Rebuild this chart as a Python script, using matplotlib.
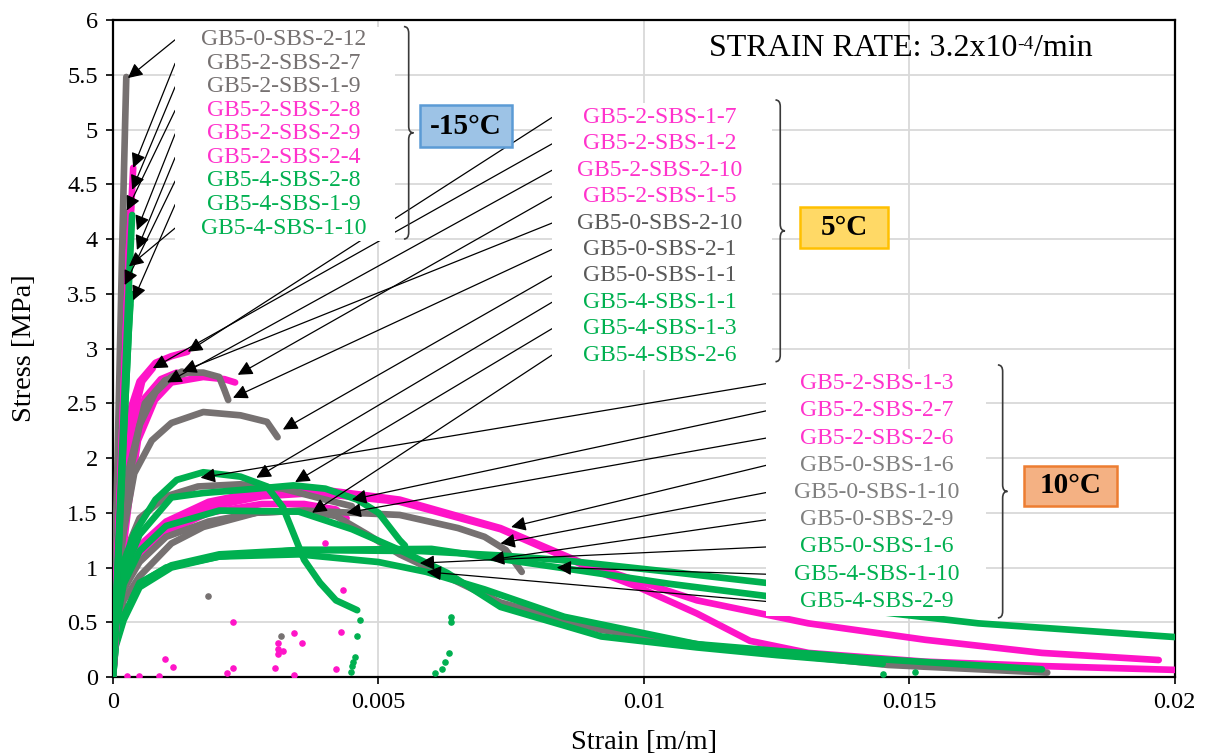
import matplotlib.pyplot as plt
from matplotlib.patches import Rectangle, PathPatch
from matplotlib.path import Path

plt.rcParams['font.family'] = ['Liberation Serif', 'DejaVu Serif']

GRAY = '#767171'
PINK = '#FF14C8'
GREEN = '#00B050'

# ---- -15 C curves (strain, stress) ----
c15_labels = ['GB5-0-SBS-2-12', 'GB5-2-SBS-2-7', 'GB5-2-SBS-1-9',
              'GB5-2-SBS-2-8', 'GB5-2-SBS-2-9', 'GB5-2-SBS-2-4',
              'GB5-4-SBS-2-8', 'GB5-4-SBS-1-9', 'GB5-4-SBS-1-10']
c15_colors = [GRAY, GRAY, GRAY, PINK, PINK, PINK, GREEN, GREEN, GREEN]
c15_x = [
    [0, 0.00004, 0.00009, 0.00014, 0.00019, 0.00023, 0.00025],
    [0, 0.00006, 0.00012, 0.00018, 0.00022],
    [0, 0.00006, 0.00012, 0.00018, 0.0002],
    [0, 0.0001, 0.0002, 0.0003, 0.00038],
    [0, 0.0001, 0.0002, 0.0003, 0.00034],
    [0, 0.0001, 0.0002, 0.00028, 0.0003],
    [0, 0.0001, 0.0002, 0.0003, 0.00036],
    [0, 0.0001, 0.0002, 0.0003, 0.00034],
    [0, 0.0001, 0.0002, 0.0003, 0.00032],
]
c15_y = [
    [0, 1.0, 2.1, 3.2, 4.3, 5.1, 5.48],
    [0, 1.2, 2.4, 3.6, 4.25],
    [0, 1.1, 2.2, 3.3, 3.6],
    [0, 1.3, 2.6, 3.9, 4.65],
    [0, 1.3, 2.6, 3.9, 4.3],
    [0, 1.3, 2.6, 3.6, 3.9],
    [0, 1.2, 2.4, 3.6, 4.22],
    [0, 1.1, 2.2, 3.2, 3.5],
    [0, 1.1, 2.2, 3.2, 3.4],
]
c15_tips = [(0.00028, 5.47), (0.00038, 4.65), (0.00036, 4.45), (0.00026, 4.26),
            (0.00045, 4.08), (0.00045, 3.9), (0.00022, 3.58), (0.00038, 3.44),
            (0.0003, 3.75)]

# ---- 5 C curves ----
c5_labels = ['GB5-2-SBS-1-7', 'GB5-2-SBS-1-2', 'GB5-2-SBS-2-10', 'GB5-2-SBS-1-5',
             'GB5-0-SBS-2-10', 'GB5-0-SBS-2-1', 'GB5-0-SBS-1-1',
             'GB5-4-SBS-1-1', 'GB5-4-SBS-1-3', 'GB5-4-SBS-2-6']
c5_colors = [PINK, PINK, PINK, PINK, GRAY, GRAY, GRAY, GREEN, GREEN, GREEN]
c5_text_colors = ['#FF33CC'] * 4 + ['#595959'] * 3 + [GREEN] * 3
c5_x = [
    [0, 0.0001, 0.0002, 0.0003, 0.0005, 0.0008, 0.0011, 0.0014],
    [0, 0.00012, 0.00025, 0.0004, 0.00055, 0.00075],
    [0, 0.0001, 0.00025, 0.0004, 0.0006, 0.0009, 0.0012],
    [0, 0.0001, 0.0003, 0.00047, 0.00079, 0.0011, 0.0017, 0.0021, 0.0023],
    [0, 0.0001, 0.0003, 0.0005, 0.0008, 0.0011, 0.0013],
    [0, 0.0001, 0.0003, 0.0006, 0.00098, 0.0014, 0.0017, 0.002, 0.0021, 0.00217],
    [0, 0.00005, 0.00015, 0.0004, 0.00073, 0.0011, 0.0017, 0.0024, 0.0029, 0.0031],
    [0, 0.00005, 0.0002, 0.0004, 0.0008, 0.0012, 0.0017, 0.0024, 0.0029, 0.0032,
     0.0034, 0.0036, 0.0039, 0.0042, 0.0046],
    [0, 0.00005, 0.0002, 0.0005, 0.0011, 0.0017, 0.0027, 0.0034, 0.004, 0.0046,
     0.005, 0.0054, 0.0055],
    [0, 0.00005, 0.0002, 0.0005, 0.001, 0.002, 0.0035, 0.0045, 0.0054, 0.0063,
     0.0073, 0.0092, 0.011, 0.0125, 0.0145],
]
c5_y = [
    [0, 1.0, 1.8, 2.4, 2.7, 2.87, 2.93, 2.97],
    [0, 1.0, 1.8, 2.4, 2.7, 2.82],
    [0, 0.9, 1.7, 2.25, 2.55, 2.72, 2.78],
    [0, 0.8, 1.6, 2.16, 2.53, 2.69, 2.74, 2.72, 2.69],
    [0, 0.9, 1.8, 2.3, 2.6, 2.74, 2.79],
    [0, 0.9, 1.9, 2.5, 2.71, 2.78, 2.78, 2.74, 2.62, 2.53],
    [0, 0.5, 1.2, 1.86, 2.16, 2.32, 2.42, 2.39, 2.33, 2.19],
    [0, 0.6, 1.05, 1.31, 1.62, 1.8, 1.87, 1.83, 1.74, 1.55,
     1.31, 1.07, 0.86, 0.7, 0.61],
    [0, 0.5, 0.95, 1.3, 1.64, 1.68, 1.72, 1.75, 1.72, 1.62,
     1.5, 1.25, 1.2],
    [0, 0.45, 0.85, 1.15, 1.38, 1.52, 1.51, 1.35, 1.16, 0.95,
     0.64, 0.37, 0.27, 0.2, 0.12],
]
c5_tips = [(0.00141, 2.97), (0.00075, 2.82), (0.00102, 2.69), (0.00235, 2.76),
           (0.0013, 2.79), (0.00226, 2.55), (0.0032, 2.26),
           (0.0027, 1.82), (0.00343, 1.78), (0.00375, 1.5)]

# ---- 10 C curves ----
c10_labels = ['GB5-2-SBS-1-3', 'GB5-2-SBS-2-7', 'GB5-2-SBS-2-6',
              'GB5-0-SBS-1-6', 'GB5-0-SBS-1-10', 'GB5-0-SBS-2-9',
              'GB5-0-SBS-1-6', 'GB5-4-SBS-1-10', 'GB5-4-SBS-2-9']
c10_colors = [PINK, PINK, PINK, GRAY, GRAY, GRAY, GREEN, GREEN, GREEN]
c10_text_colors = ['#FF33CC'] * 3 + ['#808080'] * 3 + [GREEN] * 3
c10_x = [
    [0, 0.00005, 0.0002, 0.0005, 0.001, 0.0018, 0.0028, 0.0038, 0.0054, 0.0073,
     0.0088, 0.011, 0.0131, 0.0153, 0.0175, 0.0197],
    [0, 0.00005, 0.0002, 0.0005, 0.001, 0.0018, 0.0028, 0.0038, 0.0054, 0.0073,
     0.0092, 0.0099, 0.011, 0.012, 0.0131, 0.0153, 0.0175, 0.02],
    [0, 0.00005, 0.0002, 0.0005, 0.001, 0.0018, 0.0028, 0.0036, 0.0042, 0.0044],
    [0, 0.00005, 0.0002, 0.0005, 0.001, 0.0016, 0.0024, 0.0032, 0.004, 0.0045],
    [0, 0.00005, 0.0002, 0.0005, 0.0011, 0.0017, 0.0027, 0.0036, 0.0042, 0.0048,
     0.0054, 0.0064, 0.0073, 0.0092, 0.0117, 0.0146, 0.0176],
    [0, 0.00005, 0.0002, 0.0005, 0.001, 0.0018, 0.0027, 0.0036, 0.0054, 0.0065,
     0.007, 0.0074, 0.0077],
    [0, 0.00005, 0.0002, 0.0005, 0.0011, 0.002, 0.0035, 0.0058, 0.0073, 0.0084,
     0.0105, 0.0123],
    [0, 0.00005, 0.0002, 0.0005, 0.0011, 0.002, 0.0035, 0.006, 0.0084, 0.0105,
     0.0123, 0.0138, 0.0163, 0.02],
    [0, 0.00005, 0.0002, 0.0005, 0.001, 0.002, 0.0035, 0.005, 0.0059, 0.007,
     0.0085, 0.011, 0.0142, 0.0175],
]
c10_y = [
    [0, 0.6, 1.0, 1.2, 1.42, 1.6, 1.7, 1.72, 1.62, 1.36,
     1.05, 0.7, 0.49, 0.34, 0.22, 0.155],
    [0, 0.5, 0.9, 1.15, 1.37, 1.55, 1.65, 1.68, 1.6, 1.35,
     0.95, 0.82, 0.58, 0.33, 0.22, 0.14, 0.1, 0.065],
    [0, 0.5, 0.85, 1.1, 1.32, 1.5, 1.58, 1.58, 1.53, 1.45],
    [0, 0.6, 1.1, 1.45, 1.65, 1.74, 1.76, 1.72, 1.62, 1.56],
    [0, 0.4, 0.7, 0.92, 1.22, 1.37, 1.5, 1.52, 1.47, 1.3,
     1.12, 0.89, 0.68, 0.43, 0.25, 0.11, 0.04],
    [0, 0.45, 0.8, 1.05, 1.28, 1.42, 1.5, 1.52, 1.48, 1.36,
     1.28, 1.16, 0.96],
    [0, 0.3, 0.55, 0.86, 1.02, 1.12, 1.16, 1.15, 1.11, 1.07,
     0.96, 0.86],
    [0, 0.28, 0.52, 0.82, 1.0, 1.1, 1.16, 1.17, 1.0, 0.85,
     0.74, 0.63, 0.49, 0.365],
    [0, 0.3, 0.55, 0.85, 1.0, 1.1, 1.12, 1.05, 0.96, 0.8,
     0.55, 0.3, 0.17, 0.07],
]
c10_tips = [(0.00165, 1.82), (0.0045, 1.62), (0.0044, 1.5), (0.0075, 1.37),
            (0.0073, 1.22), (0.0071, 1.07), (0.00578, 1.04), (0.00836, 1.0),
            (0.00591, 0.96)]

# stray points recorded near failure
pink_dots_x = [0.00027, 0.00049, 0.00086, 0.00098, 0.00113, 0.00215, 0.00226, 0.00226,
               0.00305, 0.0031, 0.0031, 0.0031, 0.0032, 0.0034, 0.0034, 0.00356,
               0.004, 0.0042, 0.0043, 0.00433]
pink_dots_y = [0.01, 0.01, 0.01, 0.16, 0.09, 0.04, 0.08, 0.5,
               0.08, 0.31, 0.26, 0.21, 0.24, 0.4, 0.02, 0.31,
               1.22, 0.07, 0.41, 0.79]
green_dots_x = [0.00465, 0.0046, 0.00456, 0.00452, 0.0045, 0.00448,
                0.00636, 0.00636, 0.00633, 0.00625, 0.0062, 0.00606,
                0.0145, 0.0151]
green_dots_y = [0.52, 0.37, 0.18, 0.14, 0.1, 0.05,
                0.55, 0.5, 0.22, 0.14, 0.07, 0.04,
                0.03, 0.05]
gray_dots_x = [0.00179, 0.00316]
gray_dots_y = [0.74, 0.37]


def draw_group(ax, xs, ys, colors):
    for x, y, c in zip(xs, ys, colors):
        ax.plot(x, y, color=c, lw=4.8, solid_capstyle='round',
                solid_joinstyle='round', zorder=3)


def draw_brace(ax, x0, yt, yb, w=0.00018, d=0.06):
    # right-facing curly brace in data units
    ym = (yt + yb) / 2
    xh = x0 + w / 2
    verts = [(x0, yt), (xh, yt), (xh, yt - d), (xh, ym + d), (xh, ym), (x0 + w, ym),
             (xh, ym), (xh, ym - d), (xh, yb + d), (xh, yb), (x0, yb)]
    codes = [Path.MOVETO, Path.CURVE3, Path.CURVE3, Path.LINETO, Path.CURVE3, Path.CURVE3,
             Path.CURVE3, Path.CURVE3, Path.LINETO, Path.CURVE3, Path.CURVE3]
    ax.add_patch(PathPatch(Path(verts, codes), fc='none', ec='#3A3A3A', lw=1.2, zorder=7))


def label_group(ax, labels, tcolors, tips, x_left, x_right, y_top, y_bot, x_text,
                fsize, brace, tag, tag_box, tag_fc, tag_ec):
    n = len(labels)
    step = (y_top - y_bot) / (n - 1)
    rows = [y_top - i * step for i in range(n)]
    for r, tip in zip(rows, tips):
        ax.annotate('', xy=tip, xytext=(x_left, r),
                    arrowprops=dict(arrowstyle='-|>', color='black', lw=0.9,
                                    mutation_scale=22, shrinkA=0, shrinkB=0),
                    zorder=5)
    ax.add_patch(Rectangle((x_left, y_bot - step * 0.55), x_right - x_left,
                           y_top - y_bot + step * 1.1, fc='white', ec='none', zorder=6))
    for r, lab, c in zip(rows, labels, tcolors):
        ax.text(x_text, r, lab, color=c, fontsize=fsize, ha='center', va='center', zorder=7)
    draw_brace(ax, brace[0], brace[1], brace[2])
    x0, x1, y0, y1 = tag_box
    ax.add_patch(Rectangle((x0, y0), x1 - x0, y1 - y0, fc=tag_fc, ec=tag_ec, lw=1.8,
                           zorder=7))
    ax.text((x0 + x1) / 2, (y0 + y1) / 2, tag, fontsize=21, fontweight='bold',
            ha='center', va='center', zorder=8)


def main():
    fig = plt.figure(figsize=(12.05, 7.56), dpi=100)
    ax = fig.add_axes([0.0938, 0.1045, 0.881, 0.869])

    draw_group(ax, c10_x, c10_y, c10_colors)
    draw_group(ax, c5_x, c5_y, c5_colors)
    draw_group(ax, c15_x, c15_y, c15_colors)
    ax.scatter(pink_dots_x, pink_dots_y, s=14, color=PINK, zorder=3)
    ax.scatter(green_dots_x, green_dots_y, s=14, color=GREEN, zorder=3)
    ax.scatter(gray_dots_x, gray_dots_y, s=14, color=GRAY, zorder=3)

    ax.set_xlim(0, 0.02)
    ax.set_ylim(0, 6)
    ax.set_xticks([0, 0.005, 0.01, 0.015, 0.02])
    ax.set_xticklabels(['0', '0.005', '0.01', '0.015', '0.02'])
    ax.set_yticks([i * 0.5 for i in range(13)])
    ax.set_yticklabels(['0', '0.5', '1', '1.5', '2', '2.5', '3', '3.5', '4', '4.5',
                        '5', '5.5', '6'])
    ax.tick_params(labelsize=17.5, direction='out', length=5, width=1.2, pad=6)
    ax.grid(True, color='#D9D9D9', lw=1.3, zorder=0)
    ax.set_axisbelow(True)
    for s in ax.spines.values():
        s.set_linewidth(1.6)
    ax.set_xlabel('Strain [m/m]', fontsize=20.5, labelpad=12)
    ax.set_ylabel('Stress [MPa]', fontsize=20.5, labelpad=22)

    # label blocks: x in strain units, y in MPa
    label_group(ax, c15_labels, [GRAY] * 3 + ['#FF33CC'] * 3 + [GREEN] * 3, c15_tips,
                0.00117, 0.00532, 5.82, 4.10, 0.00321, 17,
                (0.00548, 5.94, 4.0), '-15°C', (0.00578, 0.00751, 4.84, 5.224),
                '#9DC3E6', '#5B9BD5')
    label_group(ax, c5_labels, c5_text_colors, c5_tips,
                0.00827, 0.01242, 5.11, 2.94, 0.01030, 17,
                (0.01248, 5.27, 2.88), '5°C', (0.01294, 0.0146, 3.918, 4.292),
                '#FFD966', '#FFC000')
    label_group(ax, c10_labels, c10_text_colors, c10_tips,
                0.01231, 0.01645, 2.68, 0.69, 0.01438, 17,
                (0.01667, 2.85, 0.54), '10°C', (0.01717, 0.01891, 1.562, 1.927),
                '#F4B183', '#ED7D31')

    # strain rate note, superscript placed after the base text
    fig.canvas.draw()
    r = fig.canvas.get_renderer()
    t1 = ax.text(0.01123, 5.74, 'STRAIN RATE: 3.2x10', fontsize=23,
                 ha='left', va='center', zorder=7)
    bb = t1.get_window_extent(r)
    t2 = fig.text(bb.x1, bb.y1 - 15, '-4', fontsize=14, ha='left', va='baseline',
                  transform=None, zorder=7)
    bb2 = t2.get_window_extent(r)
    fig.text(bb2.x1, (bb.y0 + bb.y1) / 2, '/min', fontsize=23, ha='left', va='center',
             transform=None, zorder=7)

    fig.savefig('out.png', dpi=100)


if __name__ == '__main__':
    main()
